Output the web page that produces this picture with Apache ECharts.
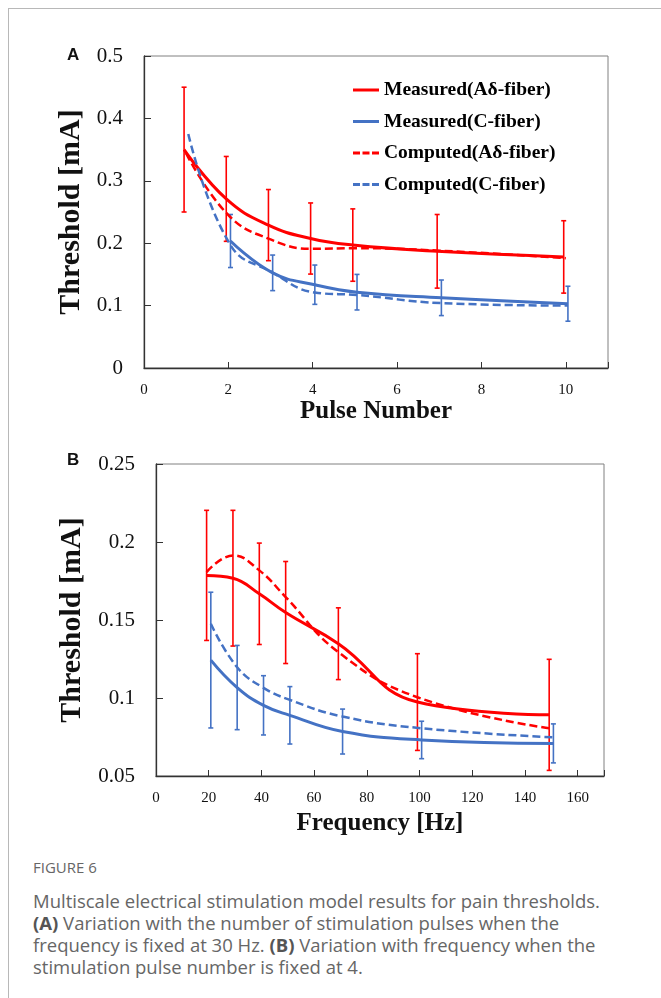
<!DOCTYPE html>
<html>
<head>
<meta charset="utf-8">
<script src="https://cdn.jsdelivr.net/npm/echarts@6/dist/echarts.min.js"></script>
<style>
html,body{margin:0;padding:0;background:#fff;width:661px;height:998px;overflow:hidden;}
#frame{position:absolute;left:8px;top:8px;width:670px;height:1010px;border-top:1px solid #b8b8b8;border-left:1px solid #b8b8b8;}
#chart{position:absolute;left:0;top:0;width:661px;height:850px;}
.panel{position:absolute;left:67px;font:bold 17px "Liberation Sans",Arial,sans-serif;line-height:17px;color:#111;}
#fig{position:absolute;left:33px;top:858px;font-family:"Open Sans",sans-serif;font-size:15px;line-height:18px;color:#666;}
#body{position:absolute;left:33px;top:890px;font-family:"Open Sans",sans-serif;font-size:18.5px;line-height:22px;color:#666;white-space:nowrap;}
#body b{color:#555;font-weight:700;}
</style>
</head>
<body>
<div id="frame"></div>
<div id="chart"></div>
<div class="panel" style="top:46px">A</div>
<div class="panel" style="top:451px">B</div>
<div id="fig">FIGURE 6</div>
<div id="body">Multiscale electrical stimulation model results for pain thresholds.<br><b>(A)</b> Variation with the number of stimulation pulses when the<br>frequency is fixed at 30 Hz. <b>(B)</b> Variation with frequency when the<br>stimulation pulse number is fixed at 4.</div>
<script>
// ---------- Panel A: pulse number ----------
const pulseMeasA = [0.95, 1.95, 2.95, 3.95, 4.95, 6.95, 9.95];
const measuredA = [0.35, 0.271, 0.229, 0.2075, 0.197, 0.187, 0.178];
const measuredAErr = [0.1, 0.068, 0.057, 0.057, 0.058, 0.059, 0.058];
const pulseMeasC = [2.05, 3.05, 4.05, 5.05, 7.05, 10.05];
const measuredC = [0.2035, 0.1525, 0.1335, 0.1215, 0.1125, 0.103];
const measuredCErr = [0.0425, 0.0285, 0.0315, 0.0285, 0.0285, 0.028];
const pulseCompA = [1, 2, 3, 4, 5, 7, 10];
const computedA = [0.344, 0.245, 0.206, 0.191, 0.192, 0.188, 0.176];
const pulseCompC = [1.05, 2.05, 3.05, 4.05, 5.05, 7.05, 10.05];
const computedC = [0.375, 0.197, 0.153, 0.121, 0.117, 0.104, 0.100];

// ---------- Panel B: frequency ----------
const freqA = [19.2, 29.2, 39.2, 49.2, 69.2, 99.2, 149.2];
const measuredA2 = [0.1786, 0.1768, 0.1668, 0.1548, 0.1348, 0.0974, 0.0892];
const measuredA2Err = [0.0417, 0.0435, 0.0325, 0.0327, 0.023, 0.031, 0.0356];
const freqC = [20.8, 30.8, 40.8, 50.8, 70.8, 100.8, 150.8];
const measuredC2 = [0.1243, 0.1067, 0.0953, 0.0889, 0.0785, 0.0731, 0.0709];
const measuredC2Err = [0.0435, 0.027, 0.019, 0.0184, 0.0144, 0.012, 0.0125];
const computedA2 = [0.1807, 0.1914, 0.1818, 0.1647, 0.1294, 0.1005, 0.0806];
const computedC2 = [0.1476, 0.1197, 0.1065, 0.0988, 0.0881, 0.0806, 0.0748];

const seriesNames = ['Measured(Aδ-fiber)', 'Measured(C-fiber)', 'Computed(Aδ-fiber)', 'Computed(C-fiber)'];
const xTitles = ['Pulse Number', 'Frequency [Hz]'];
const yTitle = 'Threshold [mA]';

const RED = '#ff0000', BLUE = '#4472c4';
const SERIF = '"Liberation Serif","Times New Roman",serif';

function pairs(xs, ys) { return xs.map((x, i) => [x, ys[i]]); }

function lineSeries(name, xs, ys, color, dashed, gi) {
  return {
    type: 'line', name: name, xAxisIndex: gi, yAxisIndex: gi,
    data: pairs(xs, ys), smooth: 0.45, symbol: 'none', showSymbol: false,
    color: color, z: 4,
    lineStyle: { color: color, width: dashed ? 2.5 : 3, type: dashed ? [8, 4] : 'solid' }
  };
}

function errSeries(xs, ys, es, color, gi) {
  return {
    type: 'custom', xAxisIndex: gi, yAxisIndex: gi, silent: true, z: 3,
    data: xs.map((x, i) => [x, ys[i], es[i]]),
    encode: { x: 0, y: 1 },
    renderItem: function (params, api) {
      const x = api.value(0), c = api.value(1), e = api.value(2);
      const t = api.coord([x, c + e]), b = api.coord([x, c - e]);
      const w = 2.5;
      const st = { stroke: color, lineWidth: 1.6 };
      return {
        type: 'group', children: [
          { type: 'line', shape: { x1: t[0], y1: t[1], x2: b[0], y2: b[1] }, style: st },
          { type: 'line', shape: { x1: t[0] - w, y1: t[1], x2: t[0] + w, y2: t[1] }, style: st },
          { type: 'line', shape: { x1: b[0] - w, y1: b[1], x2: b[0] + w, y2: b[1] }, style: st }
        ]
      };
    }
  };
}

function xAxis(gi, max, interval, name, gap) {
  return {
    gridIndex: gi, type: 'value', min: 0, max: max, interval: interval,
    axisLine: { show: true, lineStyle: { color: '#333', width: 1.3 } },
    axisTick: { show: true, inside: true, length: 6, lineStyle: { color: '#333' } },
    splitLine: { show: false },
    axisLabel: { fontFamily: SERIF, fontSize: 15, color: '#111', margin: 15,
      formatter: v => (Math.abs(v / interval - Math.round(v / interval)) < 1e-6 ? String(v) : '') },
    name: name, nameLocation: 'middle', nameGap: gap,
    nameTextStyle: { fontFamily: SERIF, fontWeight: 'bold', fontSize: 25, color: '#111' }
  };
}
function yAxis(gi, min, max, interval, gap) {
  return {
    gridIndex: gi, type: 'value', min: min, max: max, interval: interval,
    axisLine: { show: true, lineStyle: { color: '#333', width: 1.3 } },
    axisTick: { show: true, inside: true, length: 7, lineStyle: { color: '#333' } },
    splitLine: { show: false },
    axisLabel: { fontFamily: SERIF, fontSize: 21, color: '#111', margin: 21 },
    name: yTitle, nameLocation: 'middle', nameGap: gap, nameRotate: 90,
    nameTextStyle: { fontFamily: SERIF, fontWeight: 'bold', fontSize: 30, color: '#111' }
  };
}

const solidIcon = 'path://M0,0H26V3H0Z';
const dashIcon = 'path://M0,0H7V3H0Z M9.5,0H16.5V3H9.5Z M19,0H26V3H19Z';

const chart = echarts.init(document.getElementById('chart'), null, { renderer: 'canvas' });
chart.setOption({
  animation: false,
  backgroundColor: 'transparent',
  grid: [
    { left: 144, top: 56, width: 464, height: 312, show: true, borderColor: '#808080', borderWidth: 1 },
    { left: 156, top: 464, width: 448, height: 312, show: true, borderColor: '#808080', borderWidth: 1 }
  ],
  xAxis: [xAxis(0, 11, 2, xTitles[0], 29), xAxis(1, 170, 20, xTitles[1], 35)],
  yAxis: [yAxis(0, 0, 0.5, 0.1, 52), yAxis(1, 0.05, 0.25, 0.05, 64)],
  legend: {
    left: 353, top: 80, orient: 'vertical', padding: 0,
    itemWidth: 26, itemHeight: 3, itemGap: 11.5,
    itemStyle: { borderWidth: 0 },
    textStyle: { fontFamily: SERIF, fontWeight: 'bold', fontSize: 19.5, color: '#000' },
    data: [
      { name: seriesNames[0], icon: solidIcon },
      { name: seriesNames[1], icon: solidIcon },
      { name: seriesNames[2], icon: dashIcon },
      { name: seriesNames[3], icon: dashIcon }
    ]
  },
  series: [
    errSeries(pulseMeasA, measuredA, measuredAErr, RED, 0),
    errSeries(pulseMeasC, measuredC, measuredCErr, BLUE, 0),
    lineSeries(seriesNames[0], pulseMeasA, measuredA, RED, false, 0),
    lineSeries(seriesNames[1], pulseMeasC, measuredC, BLUE, false, 0),
    lineSeries(seriesNames[2], pulseCompA, computedA, RED, true, 0),
    lineSeries(seriesNames[3], pulseCompC, computedC, BLUE, true, 0),
    errSeries(freqA, measuredA2, measuredA2Err, RED, 1),
    errSeries(freqC, measuredC2, measuredC2Err, BLUE, 1),
    lineSeries('mA2', freqA, measuredA2, RED, false, 1),
    lineSeries('mC2', freqC, measuredC2, BLUE, false, 1),
    lineSeries('cA2', freqA, computedA2, RED, true, 1),
    lineSeries('cC2', freqC, computedC2, BLUE, true, 1)
  ]
});
</script>
</body>
</html>
